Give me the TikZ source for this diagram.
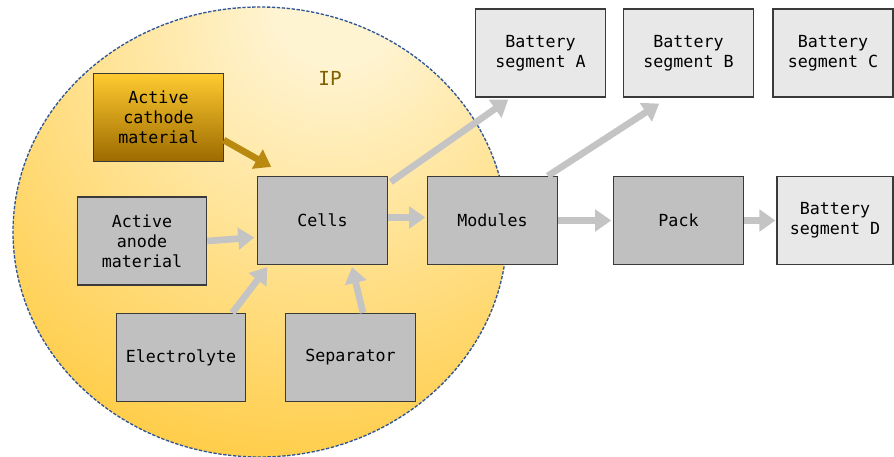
\documentclass[tikz,border=0pt]{standalone}
\usepackage{fontspec}
\setmonofont{DejaVu Sans Mono}
\usetikzlibrary{arrows.meta,calc}
\definecolor{boxgray}{HTML}{C0C0C0}
\definecolor{seggray}{HTML}{E8E8E8}
\definecolor{edgegray}{HTML}{3A3A3A}
\definecolor{flowgray}{HTML}{C4C4C4}
\definecolor{flowgold}{HTML}{BA8A10}
\definecolor{ipLight}{HTML}{FFF4D2}
\definecolor{ipDark}{HTML}{FFC42A}
\definecolor{ipBlue}{HTML}{2F5597}
\definecolor{ipText}{HTML}{7F6000}
\definecolor{cathTop}{HTML}{FFCB30}
\definecolor{cathMid}{HTML}{FFB800}
\definecolor{cathBot}{HTML}{9C6A00}
\pgfdeclareradialshading{ipglow}{\pgfpoint{8bp}{26bp}}{color(0bp)=(ipLight); color(6bp)=(ipLight); color(52bp)=(ipDark); color(130bp)=(ipDark)}
\tikzset{
  procbox/.style={draw=edgegray, fill=#1, line width=0.9pt, minimum width=97pt,
    minimum height=66pt, align=center, inner sep=2pt,
    font=\ttfamily\fontsize{12.5}{15}\selectfont},
  procbox/.default=boxgray,
  segbox/.style={procbox=seggray},
  cathbox/.style={procbox, top color=cathTop, middle color=cathMid, bottom color=cathBot},
  flow/.style={-{Triangle[length=12pt,width=16pt]}, draw=flowgray, line width=5pt},
  goldflow/.style={flow, draw=flowgold},
  iplabel/.style={text=ipText, font=\ttfamily\fontsize{14.5}{16}\selectfont}
}

\begin{document}
\begin{tikzpicture}[x=0.75pt, y=-0.75pt]
  \useasboundingbox (0,0) rectangle (894,457);

  % IP area
  \draw[ipBlue, dash pattern=on 2.5pt off 1.2pt, line width=1pt, shading=ipglow]
    (260,232) ellipse [x radius=247, y radius=225];
  \node[iplabel] (ip) at (330,78) {IP};

  % materials and components
  \node[cathbox] (cath) at (158.5,117.5) {Active\\cathode\\material};
  \node[procbox] (anode) at (142,241) {Active\\anode\\material};
  \node[procbox] (cells) at (322.5,220.5) {Cells};
  \node[procbox] (elec) at (181,357.5) {Electrolyte};
  \node[procbox] (sep) at (350.5,357.5) {Separator};
  \node[procbox] (mod) at (492.5,220.5) {Modules};
  \node[procbox] (pack) at (678.5,220.5) {Pack};

  % battery segments
  \node[segbox] (segA) at (540.5,53) {Battery\\segment A};
  \node[segbox] (segB) at (688.5,53) {Battery\\segment B};
  \node[segbox, minimum width=90pt] (segC) at (833,53) {Battery\\segment C};
  \node[segbox, minimum width=87pt] (segD) at (835,220.5) {Battery\\segment D};

  % flows
  \draw[goldflow] ($(cath.south east)+(0,-22)$) -- ($(cells.north west)+(14,-9)$);
  \draw[flow] (anode.east) -- ($(cells.west)+(-3,17)$);
  \draw[flow] ($(elec.north east)+(-14,0)$) -- ($(cells.south west)+(10,2)$);
  \draw[flow] ($(sep.north)+(12.5,0)$) -- ($(cells.south)+(29.5,2)$);
  \draw[flow] ($(cells.east)+(0,-3)$) -- ($(mod.west)+(-2,-3)$);
  \draw[flow] ($(cells.north east)+(3,6)$) -- ($(segA.south west)+(33,2)$);
  \draw[flow] ($(mod.north east)+(-10,0)$) -- ($(segB.south west)+(36,6)$);
  \draw[flow] (mod.east) -- ($(pack.west)+(-2,0)$);
  \draw[flow] (pack.east) -- ($(segD.west)+(-1,0)$);
\end{tikzpicture}
\end{document}
